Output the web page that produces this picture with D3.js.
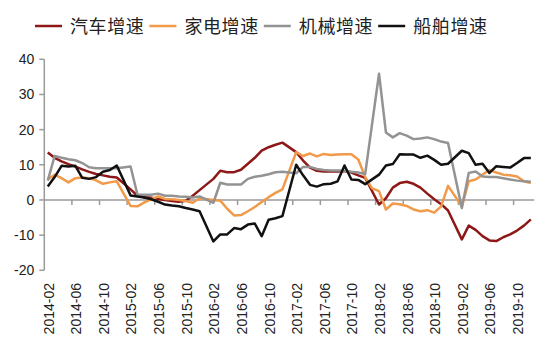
<!DOCTYPE html>
<html>
<head>
<meta charset="utf-8">
<script src="https://cdn.jsdelivr.net/npm/d3@7"></script>
<style>
  body { margin: 0; background: #fff; }
  svg { display: block; }
  .ytick, .xlab { font-family: "Liberation Sans", Arial, sans-serif; font-size: 14px; fill: #222; }
  .leg text { font-family: "Noto Sans CJK SC", sans-serif; font-size: 18px; fill: #222; }
</style>
</head>
<body>
<div id="chart"></div>
<script>
// monthly categories, 2014-02 .. 2019-12
var months = [
  "2014-02","2014-03","2014-04","2014-05","2014-06","2014-07","2014-08","2014-09","2014-10","2014-11","2014-12",
  "2015-01","2015-02","2015-03","2015-04","2015-05","2015-06","2015-07","2015-08","2015-09","2015-10","2015-11","2015-12",
  "2016-01","2016-02","2016-03","2016-04","2016-05","2016-06","2016-07","2016-08","2016-09","2016-10","2016-11","2016-12",
  "2017-01","2017-02","2017-03","2017-04","2017-05","2017-06","2017-07","2017-08","2017-09","2017-10","2017-11","2017-12",
  "2018-01","2018-02","2018-03","2018-04","2018-05","2018-06","2018-07","2018-08","2018-09","2018-10","2018-11","2018-12",
  "2019-01","2019-02","2019-03","2019-04","2019-05","2019-06","2019-07","2019-08","2019-09","2019-10","2019-11","2019-12"
];

// null = no January figure (line is joined across the gap)
var car = [13.5,12,11,10.2,9.5,8.7,8,7.4,7,6.6,6.4,
  null,3,1.2,0.8,0.6,0.3,0,-0.3,-0.5,-0.2,1.2,2.8,
  null,6,8.3,7.9,7.9,8.6,10.3,12,14,15,15.7,16.3,
  null,13.6,11.2,9.2,8.3,8.1,8.1,8.1,8.2,7.8,7,6.3,
  null,-1.3,0.5,3.5,4.8,5.2,4.6,3.5,1.8,0.2,-1.2,-3,
  null,-11.2,-7.3,-8.5,-10.3,-11.5,-11.7,-10.6,-9.8,-8.7,-7.3,-5.5];

var appliance = [5.8,7.2,6.2,5,6.2,6.4,6.2,5.6,4.6,5,5.3,
  null,-1.7,-1.8,-0.7,0.2,1,0.3,0.2,0,-0.3,-0.8,0.5,
  null,0,-0.2,-2.5,-4.4,-4.3,-3.2,-2,-0.6,0.8,2,3,
  null,13.6,12.5,13.2,12.4,13.1,12.8,12.9,13,13,11.5,6.5,
  3.3,2.5,-2.7,-1,-1.2,-1.7,-2.7,-3.2,-2.9,-3.6,-1.8,4,
  null,-1.8,5.3,5.8,7.2,8.5,7.8,7.2,7,6.7,5.3,4.8];

var machinery = [5.5,12.5,12,11.6,11.3,10.5,9.3,9,9,9,9,
  null,9.5,1.5,1.5,1.5,1.8,1.2,1.2,1,0.9,0.7,1,
  null,-0.8,4.9,4.4,4.4,4.4,6,6.6,6.9,7.3,7.9,8,
  null,7.6,9.4,9.4,8.8,8.5,8.4,8.4,8.3,8,7.8,7.4,
  null,35.9,19.2,17.8,19,18.3,17.3,17.5,17.8,17.3,16.6,16.2,
  null,-2.3,7.7,8.1,6.7,6.5,6.5,6.2,5.8,5.5,5.3,5.2];

var ship = [3.8,6.5,9.7,9.5,9.7,6.3,6,6.5,8,8.5,9.8,
  null,1.3,1,0.7,0.2,-0.5,-1.3,-1.6,-1.8,-2.3,-2.7,-3.2,
  null,-11.8,-9.8,-9.8,-8,-8.3,-7,-6.7,-10.3,-5.6,-5.2,-4.6,
  null,10,7,4.3,3.8,4.5,4.6,5.3,9.8,5.8,5.7,4.5,
  null,7.2,9.8,10.2,13,12.9,12.9,12,12.6,11.4,10,10.3,
  null,14,13.3,10,10.3,7.7,9.6,9.4,9.2,10.5,11.9,11.9];

var seriesNames = ["汽车增速", "家电增速", "机械增速", "船舶增速"];
var seriesColors = ["#8e1818", "#f09a4a", "#939393", "#111111"];
var yTicks = [-20, -10, 0, 10, 20, 30, 40];

var width = 550, height = 354;
var margin = {top: 59.3, right: 15.7, bottom: 83.7, left: 44.3};

var svg = d3.select("#chart").append("svg")
    .attr("width", width)
    .attr("height", height);

var x = d3.scaleBand().domain(months).range([margin.left, width - margin.right]);
var y = d3.scaleLinear().domain([-20, 40]).range([height - margin.bottom, margin.top]);

var axisColor = "#9a9a9a";

// y axis
svg.append("line")
    .attr("x1", margin.left).attr("x2", margin.left)
    .attr("y1", y(40)).attr("y2", y(-20))
    .attr("stroke", axisColor).attr("stroke-width", 1.5);

yTicks.forEach(function(t) {
    svg.append("line")
        .attr("x1", margin.left - 5).attr("x2", margin.left)
        .attr("y1", y(t)).attr("y2", y(t))
        .attr("stroke", axisColor).attr("stroke-width", 1.5);
    svg.append("text")
        .attr("class", "ytick")
        .attr("x", margin.left - 10)
        .attr("y", y(t))
        .attr("dy", "0.35em")
        .attr("text-anchor", "end")
        .text(t);
});

// x axis at zero
svg.append("line")
    .attr("x1", margin.left).attr("x2", width - margin.right)
    .attr("y1", y(0)).attr("y2", y(0))
    .attr("stroke", axisColor).attr("stroke-width", 1.5);

months.forEach(function(m, i) {
    if (i % 4 != 0) return;
    if (i > 0) {
        svg.append("line")
            .attr("x1", x(m)).attr("x2", x(m))
            .attr("y1", y(0)).attr("y2", y(0) + 5)
            .attr("stroke", axisColor).attr("stroke-width", 1.5);
    }
    var cx = x(m) + x.bandwidth() / 2;
    svg.append("text")
        .attr("class", "xlab")
        .attr("transform", "translate(" + (cx + 1) + "," + 283 + ") rotate(-90)")
        .attr("dy", "0.35em")
        .attr("text-anchor", "end")
        .text(m);
});

// lines (gaps joined, as in the source chart)
var line = d3.line()
    .x(function(d) { return x(d.m) + x.bandwidth() / 2; })
    .y(function(d) { return y(d.v); });

[car, appliance, machinery, ship].forEach(function(vals, k) {
    var pts = months.map(function(m, i) { return {m: m, v: vals[i]}; })
        .filter(function(d) { return d.v != null; });
    svg.append("path")
        .datum(pts)
        .attr("fill", "none")
        .attr("stroke", seriesColors[k])
        .attr("stroke-width", 2.5)
        .attr("stroke-linejoin", "round")
        .attr("d", line);
});

// legend
var leg = svg.append("g").attr("class", "leg");
seriesNames.forEach(function(name, k) {
    var lx = 35 + k * 114.4;
    leg.append("line")
        .attr("x1", lx).attr("x2", lx + 27)
        .attr("y1", 26).attr("y2", 26)
        .attr("stroke", seriesColors[k]).attr("stroke-width", 2.5);
    leg.append("text")
        .attr("x", lx + 35)
        .attr("y", 32.5)
        .attr("letter-spacing", "0.6px")
        .text(name);
});
</script>
</body>
</html>
